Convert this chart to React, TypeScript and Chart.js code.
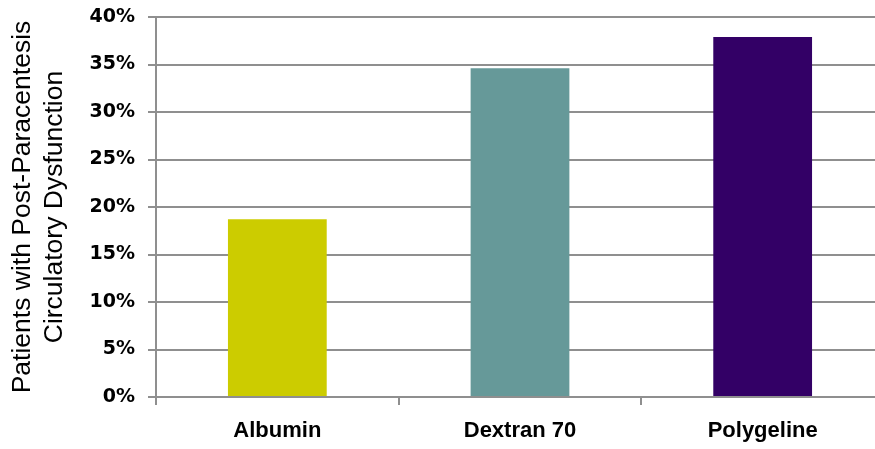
import React, { useEffect, useRef } from 'react';
import { Chart, registerables } from 'chart.js';

Chart.register(...registerables);

const categories = ['Albumin', 'Dextran 70', 'Polygeline'];
const values = [18.7, 34.6, 37.9];
const barColors = ['#cccc00', '#669999', '#330066'];
const yMin = 0;
const yMax = 40;
const yStep = 5;
const yTitle = ['Patients with Post-Paracentesis', 'Circulatory Dysfunction'];

const GRID = '#8f8f8f';

export default function App() {
  const ref = useRef<HTMLCanvasElement | null>(null);

  useEffect(() => {
    if (!ref.current) return;
    const chart = new Chart(ref.current, {
      type: 'bar',
      data: {
        labels: categories,
        datasets: [
          {
            data: values,
            backgroundColor: barColors,
            borderWidth: 0,
            categoryPercentage: 1,
            barPercentage: 0.407,
          },
        ],
      },
      options: {
        responsive: false,
        animation: false,
        layout: { padding: { left: 7, top: 17, right: 0, bottom: 0 } },
        plugins: {
          legend: { display: false },
          tooltip: { enabled: false },
        },
        scales: {
          x: {
            grid: {
              offset: true,
              drawOnChartArea: false,
              drawTicks: true,
              tickLength: 8,
              color: GRID,
              lineWidth: 2,
            },
            border: { color: GRID, width: 2 },
            ticks: {
              color: '#000',
              font: { family: "'Liberation Sans', Arial, sans-serif", size: 22, weight: 'bold' },
              padding: 13,
            },
            afterFit: (s: any) => {
              s.height = 52;
              s.paddingLeft = 0;
              s.paddingRight = 0;
            },
          },
          y: {
            min: yMin,
            max: yMax,
            ticks: {
              stepSize: yStep,
              callback: (v: any) => v + '%',
              color: '#000',
              font: { family: "'DejaVu Sans', sans-serif", size: 19, weight: 'bold' },
              padding: 13,
            },
            grid: { color: GRID, lineWidth: 2, tickLength: 8 },
            border: { color: GRID, width: 2 },
            title: {
              display: true,
              text: yTitle,
              color: '#000',
              font: { family: "'Liberation Sans', Arial, sans-serif", size: 26.5, weight: 'normal', lineHeight: 1.2 },
              padding: { top: 0, bottom: 0 },
            },
            afterFit: (s: any) => {
              s.width = 149;
              s.paddingTop = 0;
              s.paddingBottom = 0;
            },
          },
        },
      },
    });
    return () => chart.destroy();
  }, []);

  return (
    <div style={{ position: 'absolute', left: 0, top: 0, width: 875, height: 449, overflow: 'hidden', background: '#fff' }}>
      <canvas ref={ref} width={884} height={449} style={{ display: 'block' }} />
    </div>
  );
}
